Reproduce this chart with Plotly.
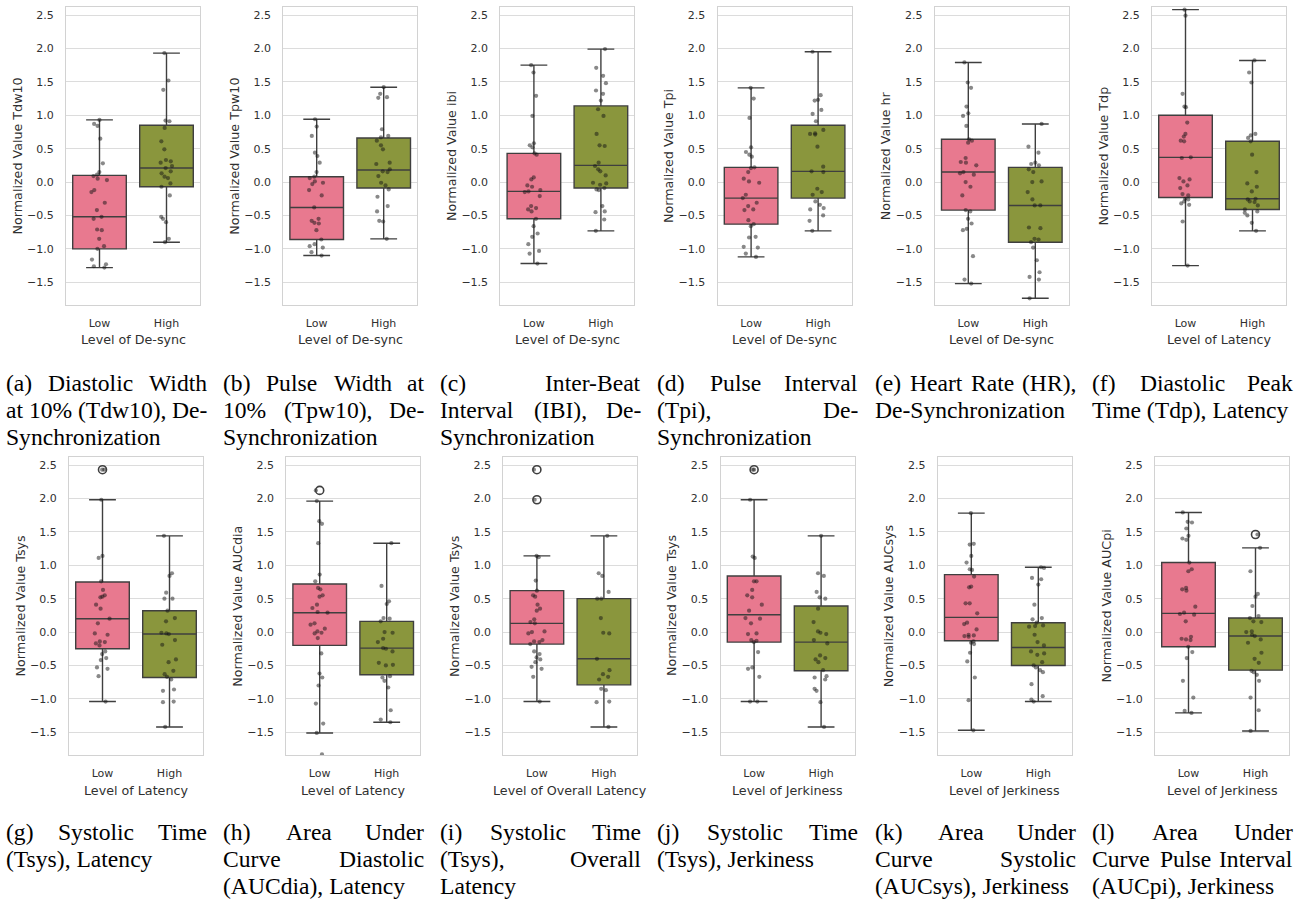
import plotly.graph_objects as go

# ---------------- data ----------------
CATS = ["Low", "High"]
Y_TICKS = [-1.5, -1.0, -0.5, 0.0, 0.5, 1.0, 1.5, 2.0, 2.5]
Y_TICK_TEXT = ["\u22121.5", "\u22121.0", "\u22120.5", "0.0", "0.5", "1.0", "1.5", "2.0", "2.5"]

# box stats: [lower whisker, q1, median, q3, upper whisker]
a_low_box = [-1.28, -1.00, -0.52, 0.10, 0.93]
a_high_box = [-0.90, -0.07, 0.21, 0.85, 1.93]
a_low_pts = [0.93, 0.87, 0.84, 0.65, 0.28, 0.15, 0.11, 0.09, 0.05, 0.03, -0.12, -0.15, -0.31, -0.42, -0.52, -0.55, -0.71, -0.72, -0.85, -0.96, -1.00, -1.16, -1.23, -1.26, -1.28]
a_high_pts = [1.93, 1.52, 1.38, 0.92, 0.91, 0.81, 0.61, 0.49, 0.33, 0.31, 0.29, 0.24, 0.21, 0.16, 0.13, 0.08, 0.06, -0.02, -0.07, -0.20, -0.52, -0.55, -0.60, -0.85, -0.90]

b_low_box = [-1.10, -0.86, -0.38, 0.08, 0.94]
b_high_box = [-0.85, -0.09, 0.18, 0.66, 1.42]
b_low_pts = [0.94, 0.83, 0.69, 0.44, 0.39, 0.29, 0.15, 0.08, 0.06, 0.01, -0.01, -0.03, -0.12, -0.20, -0.38, -0.55, -0.58, -0.61, -0.62, -0.72, -0.86, -0.93, -0.96, -0.98, -1.05, -1.10]
b_high_pts = [1.42, 1.32, 1.27, 1.26, 0.79, 0.69, 0.67, 0.62, 0.55, 0.49, 0.29, 0.27, 0.19, 0.16, 0.15, 0.09, -0.01, -0.05, -0.11, -0.22, -0.36, -0.44, -0.58, -0.59, -0.85]

c_low_box = [-1.22, -0.55, -0.14, 0.43, 1.75]
c_high_box = [-0.73, -0.09, 0.25, 1.14, 1.99]
c_low_pts = [1.75, 1.64, 1.29, 0.99, 0.58, 0.55, 0.52, 0.43, 0.41, 0.07, 0.04, -0.05, -0.07, -0.12, -0.14, -0.15, -0.21, -0.36, -0.39, -0.41, -0.44, -0.55, -0.66, -0.77, -0.82, -0.93, -1.03, -1.07, -1.22]
c_high_pts = [1.99, 1.71, 1.59, 1.48, 1.37, 1.32, 1.22, 1.09, 0.99, 0.72, 0.55, 0.54, 0.29, 0.24, 0.19, 0.16, 0.10, -0.01, -0.02, -0.04, -0.09, -0.11, -0.12, -0.36, -0.44, -0.45, -0.56, -0.73]

d_low_box = [-1.12, -0.63, -0.24, 0.22, 1.41]
d_high_box = [-0.73, -0.24, 0.16, 0.85, 1.95]
d_low_pts = [1.41, 1.25, 0.96, 0.52, 0.45, 0.41, 0.38, 0.22, 0.21, 0.15, 0.05, 0.01, -0.01, -0.19, -0.24, -0.31, -0.36, -0.41, -0.42, -0.57, -0.63, -0.66, -0.82, -0.83, -0.97, -0.98, -1.07, -1.12]
d_high_pts = [1.95, 1.30, 1.23, 1.22, 1.08, 1.02, 0.91, 0.78, 0.73, 0.72, 0.71, 0.53, 0.23, 0.16, 0.15, -0.10, -0.15, -0.19, -0.29, -0.34, -0.39, -0.41, -0.50, -0.58, -0.73]

e_low_box = [-1.52, -0.42, 0.15, 0.64, 1.79]
e_high_box = [-1.74, -0.90, -0.35, 0.22, 0.87]
e_low_pts = [1.79, 1.49, 1.41, 1.13, 1.03, 0.99, 0.84, 0.64, 0.62, 0.59, 0.36, 0.30, 0.29, 0.25, 0.15, 0.13, 0.11, 0.00, -0.07, -0.20, -0.42, -0.44, -0.55, -0.62, -0.70, -0.72, -1.11, -1.46, -1.52]
e_high_pts = [0.87, 0.53, 0.44, 0.29, 0.27, 0.25, 0.19, 0.15, 0.01, 0.00, -0.15, -0.26, -0.35, -0.35, -0.68, -0.69, -0.85, -0.86, -0.90, -0.98, -1.17, -1.35, -1.42, -1.46, -1.74]

f_low_box = [-1.25, -0.23, 0.37, 1.00, 2.58]
f_high_box = [-0.73, -0.41, -0.25, 0.61, 1.82]
f_low_pts = [2.58, 2.49, 1.32, 1.13, 1.12, 0.89, 0.72, 0.68, 0.62, 0.61, 0.37, 0.36, 0.06, 0.04, 0.01, -0.05, -0.09, -0.18, -0.20, -0.25, -0.26, -0.29, -0.32, -0.34, -0.59, -1.25]
f_high_pts = [1.82, 1.64, 1.49, 0.72, 0.70, 0.66, 0.61, 0.41, 0.15, -0.02, -0.07, -0.14, -0.25, -0.26, -0.29, -0.30, -0.35, -0.41, -0.44, -0.46, -0.50, -0.61, -0.73]

g_low_box = [-1.04, -0.25, 0.20, 0.75, 1.98]
g_high_box = [-1.42, -0.68, -0.03, 0.32, 1.44]
g_low_out = [2.43]
g_low_pts = [2.43, 2.43, 1.98, 1.14, 1.11, 0.76, 0.63, 0.55, 0.53, 0.52, 0.41, 0.35, 0.20, 0.13, -0.02, -0.04, -0.14, -0.15, -0.17, -0.20, -0.29, -0.33, -0.39, -0.42, -0.53, -0.55, -0.66, -1.04]
g_high_pts = [1.44, 0.88, 0.84, 0.59, 0.50, 0.50, 0.32, 0.21, 0.16, -0.01, -0.02, -0.03, -0.12, -0.19, -0.41, -0.45, -0.58, -0.63, -0.67, -0.71, -0.86, -0.88, -1.04, -1.05, -1.42]

h_low_box = [-1.51, -0.20, 0.29, 0.72, 1.96]
h_high_box = [-1.35, -0.64, -0.24, 0.16, 1.33]
h_low_out = [2.12]
h_low_pts = [2.12, 1.96, 1.66, 1.62, 1.33, 0.86, 0.76, 0.66, 0.64, 0.55, 0.53, 0.41, 0.36, 0.30, 0.29, 0.13, 0.11, 0.05, 0.01, -0.01, -0.02, -0.09, -0.32, -0.62, -0.68, -0.80, -1.07, -1.37, -1.51, -1.83]
h_high_pts = [1.33, 0.69, 0.46, 0.42, 0.21, 0.20, 0.16, 0.00, -0.01, -0.10, -0.15, -0.24, -0.25, -0.29, -0.46, -0.49, -0.50, -0.66, -0.68, -0.73, -0.83, -1.17, -1.31, -1.35]

i_low_box = [-1.04, -0.18, 0.13, 0.62, 1.14]
i_high_box = [-1.42, -0.79, -0.40, 0.50, 1.44]
i_low_out = [2.43, 1.98]
i_low_pts = [2.43, 1.98, 1.14, 1.12, 0.77, 0.62, 0.55, 0.53, 0.41, 0.35, 0.32, 0.19, 0.15, 0.13, 0.01, 0.00, -0.02, -0.12, -0.14, -0.15, -0.18, -0.29, -0.33, -0.38, -0.41, -0.45, -0.52, -0.55, -0.67, -1.04]
i_high_pts = [1.44, 0.88, 0.84, 0.60, 0.50, 0.50, 0.21, -0.01, -0.02, -0.40, -0.57, -0.63, -0.67, -0.71, -0.85, -0.87, -1.04, -1.05, -1.42]

j_low_box = [-1.04, -0.15, 0.26, 0.84, 1.98]
j_high_box = [-1.42, -0.58, -0.15, 0.39, 1.44]
j_low_out = [2.43]
j_low_pts = [2.43, 2.43, 1.98, 1.13, 1.11, 0.76, 0.76, 0.63, 0.55, 0.52, 0.41, 0.32, 0.21, 0.20, 0.13, -0.02, -0.03, -0.12, -0.13, -0.15, -0.30, -0.53, -0.55, -0.67, -1.04, -1.04]
j_high_pts = [1.44, 0.88, 0.84, 0.60, 0.52, 0.50, 0.35, 0.15, 0.01, -0.01, -0.03, -0.12, -0.17, -0.35, -0.39, -0.41, -0.45, -0.57, -0.66, -0.68, -0.71, -0.85, -0.88, -1.05, -1.42]

k_low_box = [-1.47, -0.13, 0.22, 0.86, 1.78]
k_high_box = [-1.04, -0.50, -0.23, 0.14, 0.97]
k_low_pts = [1.78, 1.32, 1.31, 1.14, 1.04, 0.94, 0.93, 0.83, 0.68, 0.67, 0.43, 0.43, 0.28, 0.14, 0.12, 0.04, -0.04, -0.05, -0.06, -0.07, -0.14, -0.16, -0.18, -0.31, -0.44, -0.68, -1.02, -1.47]
k_high_pts = [0.97, 0.96, 0.81, 0.79, 0.71, 0.41, 0.21, 0.19, 0.14, 0.10, 0.09, 0.08, -0.04, -0.15, -0.20, -0.29, -0.32, -0.34, -0.45, -0.50, -0.53, -0.57, -0.60, -0.78, -0.96, -1.01, -1.04]

l_low_box = [-1.21, -0.22, 0.28, 1.04, 1.79]
l_high_box = [-1.48, -0.57, -0.06, 0.21, 1.26]
l_high_out = [1.46]
l_low_pts = [1.79, 1.65, 1.64, 1.55, 1.44, 1.40, 1.38, 1.04, 0.94, 0.91, 0.66, 0.64, 0.62, 0.38, 0.29, 0.27, 0.26, 0.16, -0.07, -0.10, -0.11, -0.12, -0.22, -0.30, -0.39, -0.73, -0.98, -1.18, -1.21]
l_high_pts = [1.46, 1.26, 0.91, 0.57, 0.53, 0.39, 0.24, 0.21, 0.16, 0.15, 0.01, 0.00, -0.04, -0.06, -0.11, -0.16, -0.31, -0.40, -0.46, -0.58, -0.60, -0.64, -0.73, -0.98, -1.17, -1.48]

y_titles = ["Tdw10", "Tpw10", "ibi", "Tpi", "hr", "Tdp",
            "Tsys", "AUCdia", "Tsys", "Tsys", "AUCsys", "AUCpi"]
x_titles = ["De-sync", "De-sync", "De-sync", "De-sync", "De-sync", "Latency",
            "Latency", "Latency", "Overall Latency", "Jerkiness", "Jerkiness", "Jerkiness"]

captions = [
    ["(a) Diastolic Width", "at 10% (Tdw10), De-", "Synchronization"],
    ["(b) Pulse Width at", "10% (Tpw10), De-", "Synchronization"],
    ["(c) Inter-Beat", "Interval (IBI), De-", "Synchronization"],
    ["(d) Pulse Interval", "(Tpi), De-", "Synchronization"],
    ["(e) Heart Rate (HR),", "De-Synchronization"],
    ["(f) Diastolic Peak", "Time (Tdp), Latency"],
    ["(g) Systolic Time", "(Tsys), Latency"],
    ["(h) Area Under", "Curve Diastolic", "(AUCdia), Latency"],
    ["(i) Systolic Time", "(Tsys), Overall", "Latency"],
    ["(j) Systolic Time", "(Tsys), Jerkiness"],
    ["(k) Area Under", "Curve Systolic", "(AUCsys), Jerkiness"],
    ["(l) Area Under", "Curve Pulse Interval", "(AUCpi), Jerkiness"],
]

panels = [
    (a_low_box, a_high_box, a_low_pts, a_high_pts, [], []),
    (b_low_box, b_high_box, b_low_pts, b_high_pts, [], []),
    (c_low_box, c_high_box, c_low_pts, c_high_pts, [], []),
    (d_low_box, d_high_box, d_low_pts, d_high_pts, [], []),
    (e_low_box, e_high_box, e_low_pts, e_high_pts, [], []),
    (f_low_box, f_high_box, f_low_pts, f_high_pts, [], []),
    (g_low_box, g_high_box, g_low_pts, g_high_pts, g_low_out, []),
    (h_low_box, h_high_box, h_low_pts, h_high_pts, h_low_out, []),
    (i_low_box, i_high_box, i_low_pts, i_high_pts, i_low_out, []),
    (j_low_box, j_high_box, j_low_pts, j_high_pts, j_low_out, []),
    (k_low_box, k_high_box, k_low_pts, k_high_pts, [], []),
    (l_low_box, l_high_box, l_low_pts, l_high_pts, [], l_high_out),
]

# ---------------- style ----------------
W, H = 1308, 899
PINK = "#e8798f"
OLIVE = "#8a963d"
EDGE = "#3f3f3f"
GRID = "#dcdcdc"
TXT = "#303030"
SANS = "DejaVu Sans"
SERIF = "Liberation Serif"
CAP_SIZE = 23.6

TIMES = {' ': 250, '(': 333, ')': 333, ',': 250, '-': 333, '%': 833, '.': 250,
         'a': 444, 'b': 500, 'c': 444, 'd': 500, 'e': 444, 'f': 333, 'g': 500, 'h': 500,
         'i': 278, 'j': 278, 'k': 500, 'l': 278, 'm': 778, 'n': 500, 'o': 500, 'p': 500,
         'q': 500, 'r': 333, 's': 389, 't': 278, 'u': 500, 'v': 500, 'w': 722, 'x': 500,
         'y': 500, 'z': 444, 'A': 722, 'B': 667, 'C': 667, 'D': 722, 'E': 611, 'F': 556,
         'G': 722, 'H': 722, 'I': 333, 'J': 389, 'K': 722, 'L': 611, 'M': 889, 'N': 722,
         'O': 722, 'P': 556, 'Q': 722, 'R': 667, 'S': 556, 'T': 611, 'U': 722, 'V': 722,
         'W': 944, 'X': 722, 'Y': 722, 'Z': 611}


def text_w(s, size):
    return sum(TIMES.get(ch, 500) for ch in s) / 1000.0 * size


def px(x):
    return x / W


def py(y):
    return 1 - y / H


fig = go.Figure()
annotations = []
layout_axes = {}

for idx, (lb, hb, lp, hp, lo, ho) in enumerate(panels):
    row, col = divmod(idx, 6)
    left = (66 if row == 0 else 69) + 217.2 * col
    top = 7 if row == 0 else 457
    pw, ph = 134, 298
    n = "" if idx == 0 else str(idx + 1)
    xref, yref = "x" + n, "y" + n

    for cat, b, colr in (("Low", lb, PINK), ("High", hb, OLIVE)):
        fig.add_trace(go.Box(
            x=[cat], lowerfence=[b[0]], q1=[b[1]], median=[b[2]], q3=[b[3]], upperfence=[b[4]],
            boxpoints=False, fillcolor=colr, line=dict(color=EDGE, width=1.4),
            width=0.8, whiskerwidth=0.5, xaxis=xref, yaxis=yref,
            showlegend=False, hoverinfo="skip"))

    for cat, outs in (("Low", lo), ("High", ho)):
        if outs:
            fig.add_trace(go.Scatter(
                x=[cat] * len(outs), y=outs, mode="markers",
                marker=dict(symbol="circle-open", size=8, color=EDGE, line=dict(width=1.6)),
                xaxis=xref, yaxis=yref, showlegend=False, hoverinfo="skip"))

    fig.add_trace(go.Box(
        x=["Low"] * len(lp) + ["High"] * len(hp), y=lp + hp,
        boxpoints="all", jitter=0.35, pointpos=0,
        fillcolor="rgba(0,0,0,0)", line=dict(color="rgba(0,0,0,0)", width=0),
        marker=dict(color="rgba(20,20,20,0.5)", size=4.2, line=dict(width=0)),
        width=0.8, xaxis=xref, yaxis=yref, showlegend=False, hoverinfo="skip"))

    layout_axes["xaxis" + n] = dict(
        domain=[px(left), px(left + pw)], anchor=yref, type="category",
        categoryorder="array", categoryarray=CATS, range=[-0.5, 1.5],
        showgrid=False, zeroline=False, showline=True, mirror=True,
        linecolor="#d2d2d2", linewidth=1.2, ticks="", ticklabelstandoff=8,
        tickfont=dict(family=SANS, size=11, color=TXT), fixedrange=True)
    layout_axes["yaxis" + n] = dict(
        domain=[py(top + ph), py(top)], anchor=xref, range=[-1.84, 2.62],
        tickvals=Y_TICKS, ticktext=Y_TICK_TEXT, showgrid=True, gridcolor=GRID,
        gridwidth=1, zeroline=False, showline=True, mirror=True,
        linecolor="#d2d2d2", linewidth=1.2, ticks="", ticklabelstandoff=9,
        tickfont=dict(family=SANS, size=11, color=TXT), fixedrange=True)

    # axis titles
    annotations.append(dict(
        x=px(left - 49.5), y=py(top + ph / 2), xref="paper", yref="paper",
        text="Normalized Value " + y_titles[idx], textangle=-90, showarrow=False,
        font=dict(family=SANS, size=12.7, color=TXT), xanchor="center", yanchor="middle"))
    annotations.append(dict(
        x=px(left + pw / 2), y=py(top + 333), xref="paper", yref="paper",
        text="Level of " + x_titles[idx], showarrow=False,
        font=dict(family=SANS, size=12.7, color=TXT), xanchor="center", yanchor="middle"))

    # justified caption
    cl = 4.5 + 217.3 * col
    cw = 203
    cy0 = 383 if row == 0 else 832
    lines = captions[idx]
    for li, line in enumerate(lines):
        yy = py(cy0 + 27 * li)
        words = line.split(" ")
        last = li == len(lines) - 1
        if last or len(words) == 1:
            annotations.append(dict(
                x=px(cl), y=yy, xref="paper", yref="paper", text=line, showarrow=False,
                xanchor="left", yanchor="middle", borderpad=0,
                font=dict(family=SERIF, size=CAP_SIZE, color="black")))
            continue
        widths = [text_w(w_, CAP_SIZE) for w_ in words]
        gap = (cw - sum(widths)) / (len(words) - 1)
        xpos = cl
        for wi, (w_, ww) in enumerate(zip(words, widths)):
            if wi == len(words) - 1:
                annotations.append(dict(
                    x=px(cl + cw), y=yy, xref="paper", yref="paper", text=w_, showarrow=False,
                    xanchor="right", yanchor="middle", borderpad=0,
                    font=dict(family=SERIF, size=CAP_SIZE, color="black")))
            else:
                annotations.append(dict(
                    x=px(xpos), y=yy, xref="paper", yref="paper", text=w_, showarrow=False,
                    xanchor="left", yanchor="middle", borderpad=0,
                    font=dict(family=SERIF, size=CAP_SIZE, color="black")))
            xpos += ww + gap

fig.update_layout(
    width=W, height=H, margin=dict(l=0, r=0, t=0, b=0),
    paper_bgcolor="white", plot_bgcolor="white", showlegend=False,
    boxmode="overlay", annotations=annotations, **layout_axes)

fig.write_html("out.html", config={"displayModeBar": False},
               post_script="document.body.style.margin='0px';document.body.style.overflow='hidden';")
